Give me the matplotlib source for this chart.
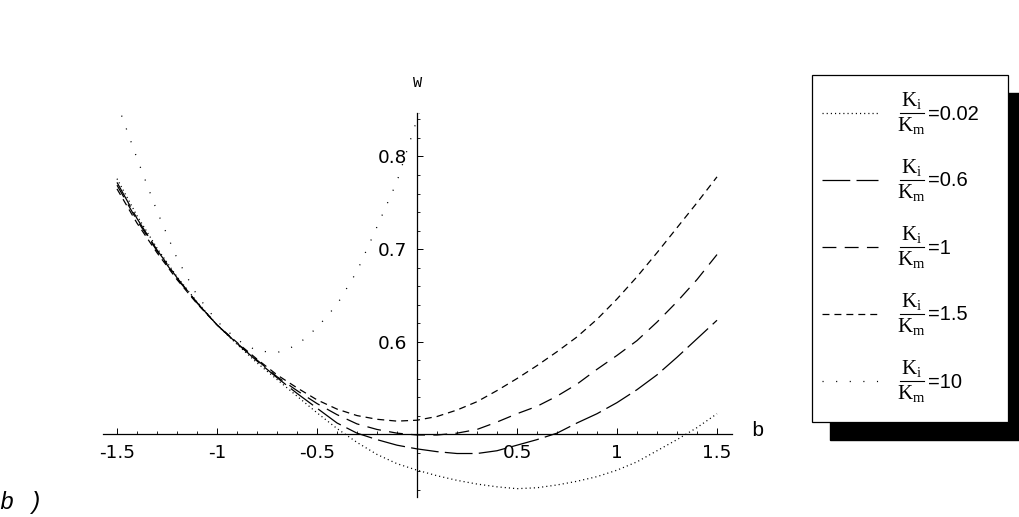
# %%
import numpy as np
import matplotlib

matplotlib.use("Agg")
import matplotlib.pyplot as plt
from matplotlib.lines import Line2D
from matplotlib.patches import Rectangle
from matplotlib.ticker import MultipleLocator

plt.rcParams["axes.unicode_minus"] = False
plt.rcParams["lines.scale_dashes"] = False

# %%
# b grid and W(b) for each Ki/Km ratio
b = np.linspace(-1.5, 1.5, 31)
ratios = ["0.02", "0.6", "1", "1.5", "10"]

w_002 = [0.776, 0.736, 0.701, 0.670, 0.643, 0.618, 0.597, 0.577, 0.559, 0.541,
         0.523, 0.506, 0.491, 0.478, 0.468, 0.461, 0.455, 0.450, 0.446, 0.443,
         0.441, 0.442, 0.445, 0.449, 0.454, 0.461, 0.470, 0.482, 0.494, 0.507,
         0.522]
w_06 = [0.772, 0.733, 0.699, 0.669, 0.642, 0.618, 0.598, 0.579, 0.561, 0.544,
        0.528, 0.512, 0.501, 0.494, 0.488, 0.484, 0.481, 0.479, 0.479, 0.482,
        0.488, 0.494, 0.501, 0.512, 0.522, 0.534, 0.548, 0.564, 0.583, 0.603,
        0.623]
w_1 = [0.769, 0.731, 0.698, 0.668, 0.642, 0.618, 0.598, 0.580, 0.562, 0.547,
       0.533, 0.521, 0.511, 0.505, 0.501, 0.499, 0.499, 0.501, 0.505, 0.513,
       0.522, 0.530, 0.541, 0.554, 0.570, 0.585, 0.601, 0.621, 0.643, 0.667,
       0.694]
w_15 = [0.765, 0.728, 0.696, 0.667, 0.641, 0.618, 0.599, 0.581, 0.564, 0.550,
        0.537, 0.527, 0.520, 0.516, 0.514, 0.515, 0.519, 0.526, 0.535, 0.547,
        0.560, 0.574, 0.589, 0.605, 0.624, 0.646, 0.670, 0.696, 0.723, 0.750,
        0.778]
nan = np.nan
w_10 = [0.858, 0.798, 0.741, 0.690, 0.650, 0.622, 0.602, 0.590, 0.588, 0.596,
        0.615, 0.640, 0.676, 0.724, 0.773, 0.840, 0.910, nan, nan, nan,
        nan, nan, nan, nan, nan, nan, nan, nan, nan, nan,
        nan]

curves = [w_002, w_06, w_1, w_15, w_10]
dashes = [
    (0, (0.8, 2.2)),   # fine dots
    (0, (20, 4.5)),    # long dash
    (0, (10, 6)),      # medium dash
    (0, (5, 3.6)),     # short dash
    (0, (0.8, 9)),     # sparse dots
]

# %%
W_PX, H_PX = 1019, 517


def fx(px):
    return px / W_PX


def fy(py):
    return 1 - py / H_PX


fig = plt.figure(figsize=(W_PX / 100, H_PX / 100), dpi=100)
ax = fig.add_axes([fx(103), fy(497), fx(732) - fx(103), fy(113) - fy(497)])
ax.set_xlim(-1.57, 1.575)
ax.set_ylim(0.432, 0.847)

for w, ls in zip(curves, dashes):
    ax.plot(b, w, color="black", lw=0.9, linestyle=ls)

# axes crossing at (0, 0.5)
ax.spines["left"].set_position(("data", 0))
ax.spines["bottom"].set_position(("data", 0.5))
ax.spines["top"].set_visible(False)
ax.spines["right"].set_visible(False)
for s in ("left", "bottom"):
    ax.spines[s].set_linewidth(0.9)

xt = [-1.5, -1, -0.5, 0.5, 1, 1.5]
ax.set_xticks(xt)
ax.set_xticklabels(["-1.5", "-1", "-0.5", "0.5", "1", "1.5"])
ax.xaxis.set_minor_locator(MultipleLocator(0.1))
ax.set_yticks([0.6, 0.7, 0.8])
ax.set_yticklabels(["0.6", "0.7", "0.8"])
ax.yaxis.set_minor_locator(MultipleLocator(0.02))
ax.tick_params(which="major", direction="in", length=4, width=0.7,
               labelsize=13.3)
ax.tick_params(which="minor", direction="in", length=2, width=0.6)
ax.tick_params(axis="x", which="major", pad=7)
ax.tick_params(axis="y", which="major", pad=7)
for lab in ax.get_xticklabels() + ax.get_yticklabels():
    lab.set_fontfamily("DejaVu Sans")

fig.text(fx(418), fy(83), "W", family="Liberation Mono", fontsize=11,
         ha="center", va="center")
fig.text(fx(757), fy(430), "b", family="Liberation Mono", fontsize=15,
         ha="center", va="center")
fig.text(fx(0), fy(503), "b )", family="Liberation Mono", style="italic",
         fontsize=17, ha="left", va="center")

# %%
# legend box with drop shadow
box_l, box_t, box_r, box_b = 812, 75, 1008, 422
shadow = Rectangle((fx(box_l + 18), fy(box_b + 18)), fx(box_r) - fx(box_l),
                   fy(box_t) - fy(box_b), transform=fig.transFigure,
                   facecolor="black", edgecolor="black", zorder=1)
box = Rectangle((fx(box_l), fy(box_b)), fx(box_r) - fx(box_l),
                fy(box_t) - fy(box_b), transform=fig.transFigure,
                facecolor="white", edgecolor="black", lw=0.9, zorder=2)
fig.patches.extend([shadow, box])

rows = [113, 180, 247, 314, 381]
for row, r, ls in zip(rows, ratios, dashes):
    fig.lines.append(Line2D([fx(822), fx(878)], [fy(row), fy(row)],
                            transform=fig.transFigure, color="black",
                            lw=0.9, linestyle=ls, zorder=3))
    fig.text(fx(911), fy(row - 12), r"K$_\mathregular{i}$",
             family="Liberation Serif", fontsize=15, ha="center", va="center",
             zorder=3)
    fig.text(fx(911), fy(row + 13), r"K$_\mathregular{m}$",
             family="Liberation Serif", fontsize=15, ha="center", va="center",
             zorder=3)
    fig.lines.append(Line2D([fx(900), fx(924)], [fy(row), fy(row)],
                            transform=fig.transFigure, color="black",
                            lw=0.8, zorder=3))
    fig.text(fx(928), fy(row + 1), "=" + r, family="Liberation Sans",
             fontsize=14.5, ha="left", va="center", zorder=3)

fig.savefig("out.png", dpi=100, facecolor="white")
